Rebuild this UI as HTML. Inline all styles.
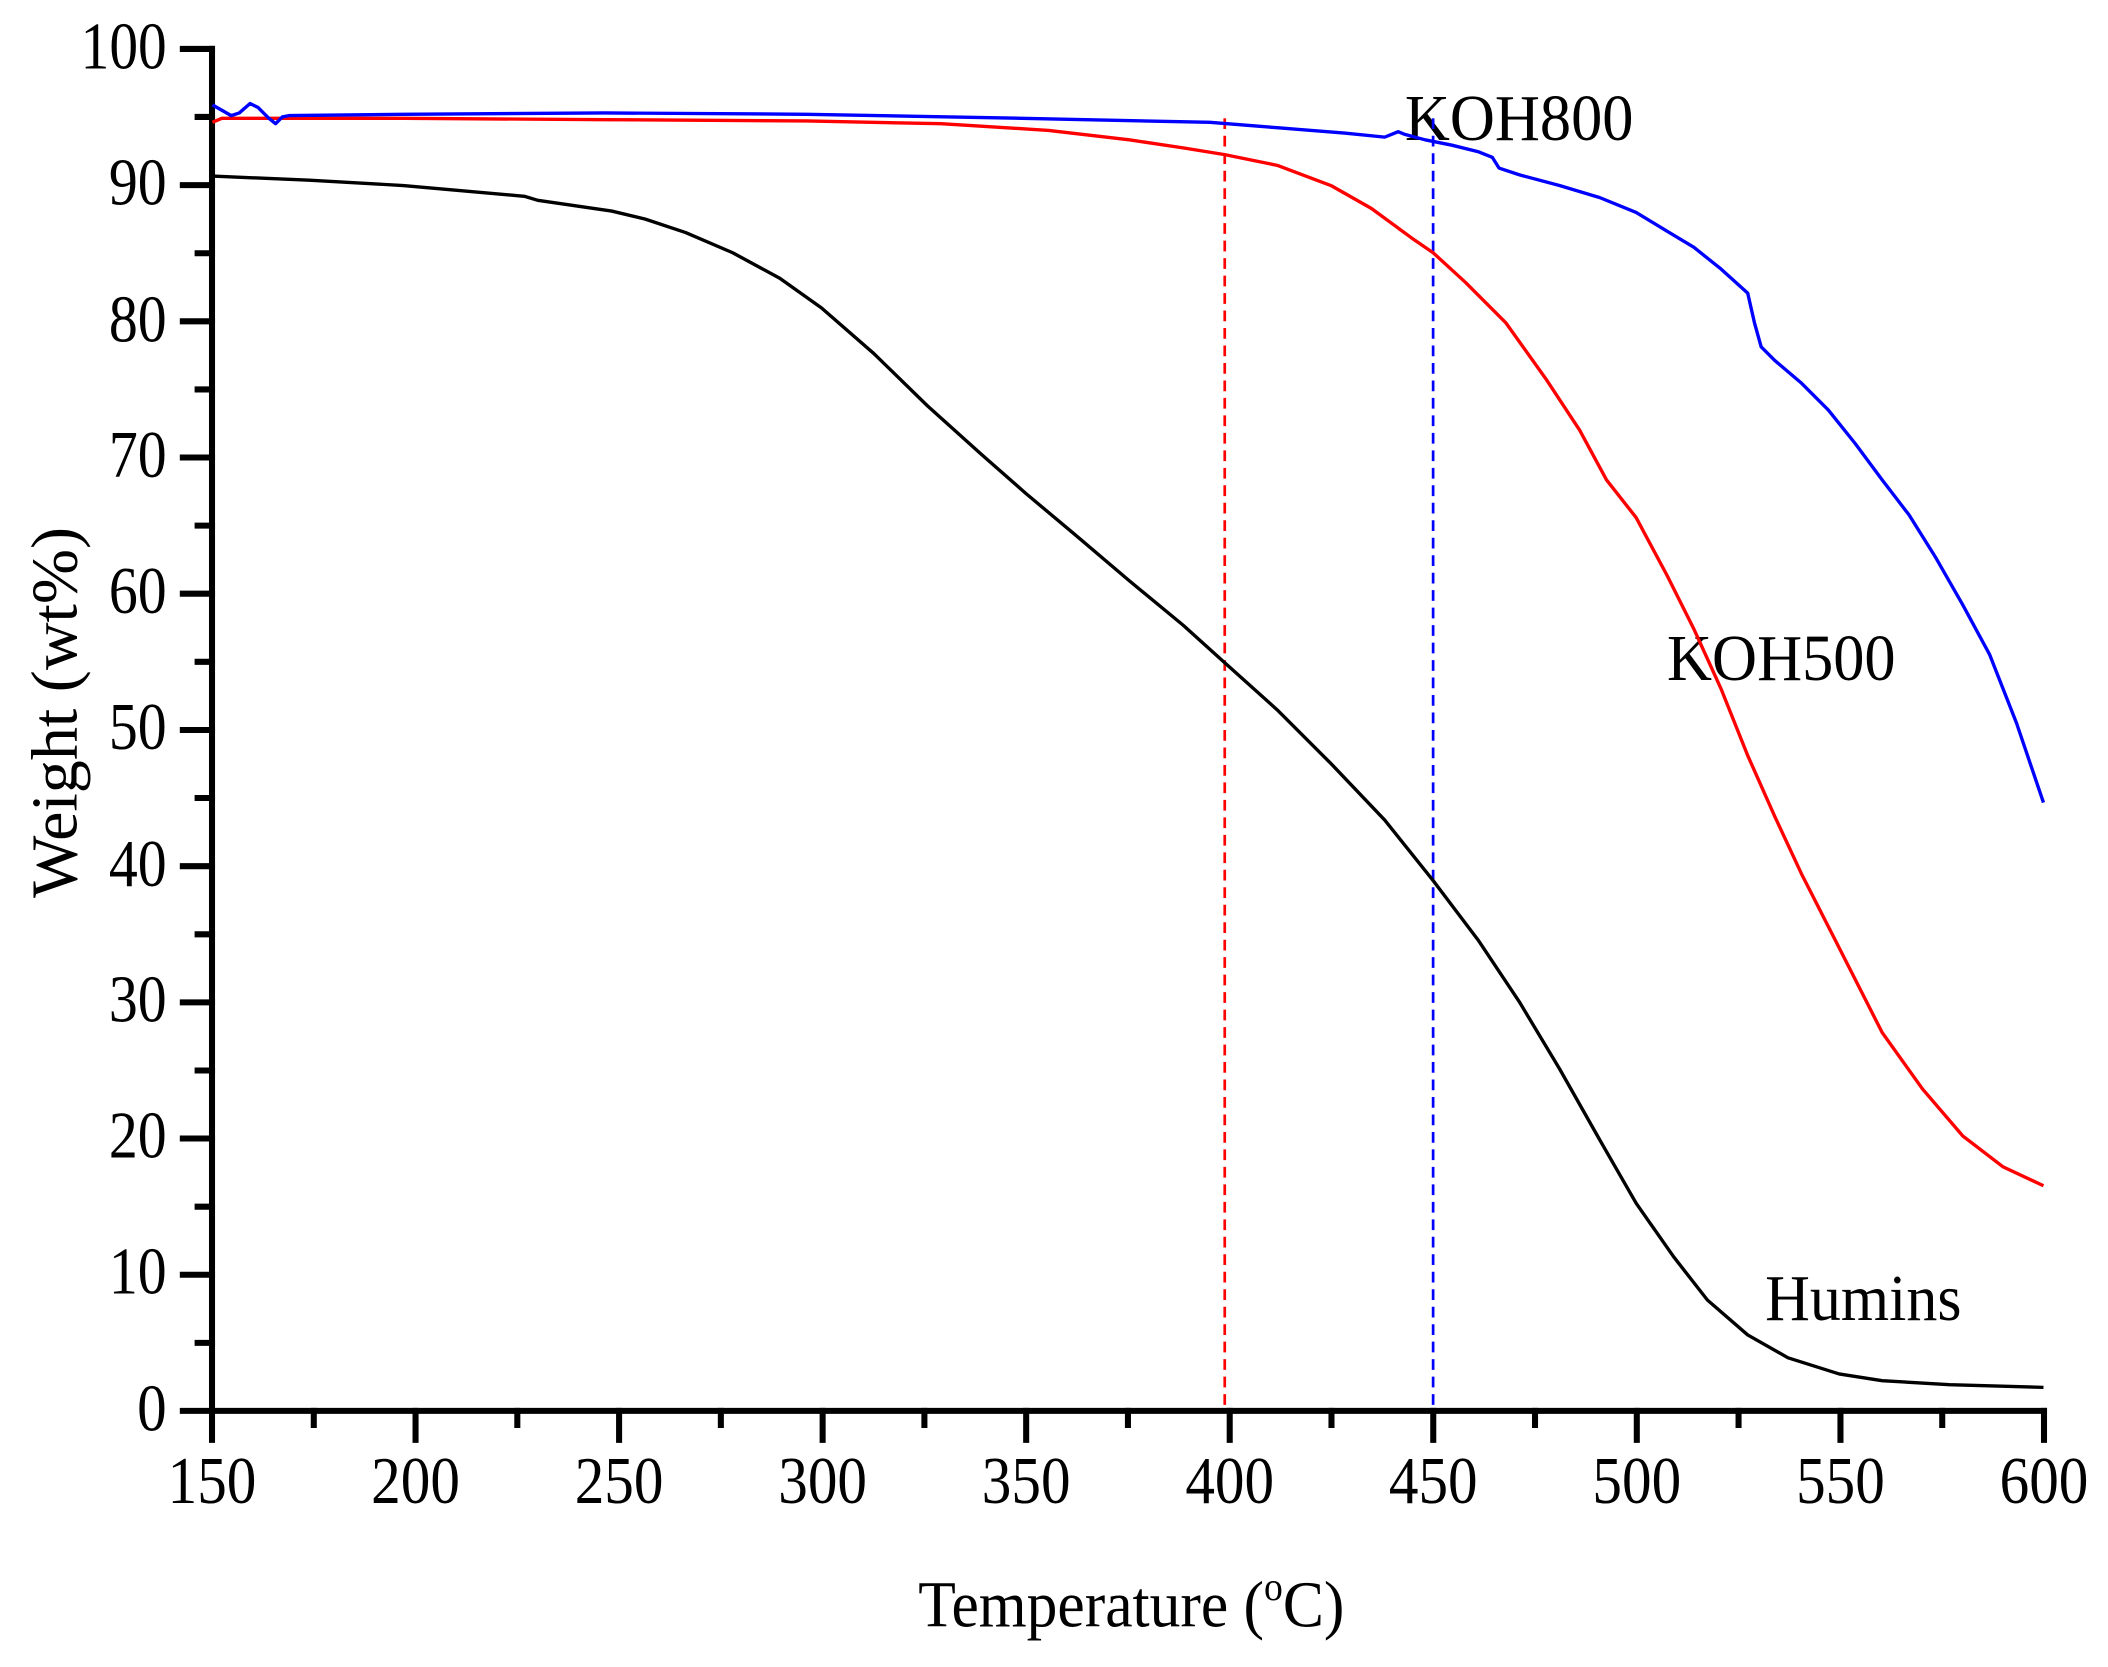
<!DOCTYPE html>
<html><head><style>html,body{margin:0;padding:0;background:#fff}svg{display:block}</style></head>
<body>
<svg width="2108" height="1667" viewBox="0 0 1568 1240" preserveAspectRatio="none" xmlns="http://www.w3.org/2000/svg" font-family="'Liberation Serif',serif">
<rect width="1568" height="1240" fill="#fff"/>
<g stroke="#000" stroke-width="4.5" fill="none" stroke-linecap="square">
<path d="M157.7,36.4 V1049.5 H1520.4"/>
<path d="M136,36.4H157.7 M136,137.7H157.7 M136,239H157.7 M136,340.3H157.7 M136,441.6H157.7 M136,543H157.7 M136,644.3H157.7 M136,745.6H157.7 M136,846.9H157.7 M136,948.2H157.7 M136,1049.5H157.7"/>
<path d="M147,87H157.7 M147,188.4H157.7 M147,289.7H157.7 M147,391H157.7 M147,492.3H157.7 M147,593.6H157.7 M147,695H157.7 M147,796.3H157.7 M147,897.6H157.7 M147,998.9H157.7"/>
<path d="M157.7,1049.5V1071 M309.1,1049.5V1071 M460.5,1049.5V1071 M611.9,1049.5V1071 M763.3,1049.5V1071 M914.7,1049.5V1071 M1066.1,1049.5V1071 M1217.5,1049.5V1071 M1369,1049.5V1071 M1520.4,1049.5V1071"/>
<path d="M233.4,1049.5V1060 M384.8,1049.5V1060 M536.2,1049.5V1060 M687.6,1049.5V1060 M839,1049.5V1060 M990.4,1049.5V1060 M1141.8,1049.5V1060 M1293.2,1049.5V1060 M1444.7,1049.5V1060"/>
</g>
<g font-size="50" text-anchor="end" fill="#000">
<text x="124" y="51" textLength="64" lengthAdjust="spacingAndGlyphs">100</text>
<text x="124" y="152" textLength="43" lengthAdjust="spacingAndGlyphs">90</text>
<text x="124" y="254" textLength="43" lengthAdjust="spacingAndGlyphs">80</text>
<text x="124" y="355" textLength="43" lengthAdjust="spacingAndGlyphs">70</text>
<text x="124" y="456" textLength="43" lengthAdjust="spacingAndGlyphs">60</text>
<text x="124" y="557" textLength="43" lengthAdjust="spacingAndGlyphs">50</text>
<text x="124" y="659" textLength="43" lengthAdjust="spacingAndGlyphs">40</text>
<text x="124" y="760" textLength="43" lengthAdjust="spacingAndGlyphs">30</text>
<text x="124" y="861" textLength="43" lengthAdjust="spacingAndGlyphs">20</text>
<text x="124" y="962" textLength="43" lengthAdjust="spacingAndGlyphs">10</text>
<text x="124" y="1064" textLength="22" lengthAdjust="spacingAndGlyphs">0</text>
</g>
<g font-size="50" text-anchor="middle" fill="#000">
<text x="157.7" y="1118" textLength="66" lengthAdjust="spacingAndGlyphs">150</text>
<text x="309.1" y="1118" textLength="66" lengthAdjust="spacingAndGlyphs">200</text>
<text x="460.5" y="1118" textLength="66" lengthAdjust="spacingAndGlyphs">250</text>
<text x="611.9" y="1118" textLength="66" lengthAdjust="spacingAndGlyphs">300</text>
<text x="763.3" y="1118" textLength="66" lengthAdjust="spacingAndGlyphs">350</text>
<text x="914.7" y="1118" textLength="66" lengthAdjust="spacingAndGlyphs">400</text>
<text x="1066.1" y="1118" textLength="66" lengthAdjust="spacingAndGlyphs">450</text>
<text x="1217.5" y="1118" textLength="66" lengthAdjust="spacingAndGlyphs">500</text>
<text x="1369" y="1118" textLength="66" lengthAdjust="spacingAndGlyphs">550</text>
<text x="1520.4" y="1118" textLength="66" lengthAdjust="spacingAndGlyphs">600</text>
</g>
<text x="683" y="1210" font-size="49" textLength="317" lengthAdjust="spacingAndGlyphs">Temperature (<tspan font-size="30" dy="-20">o</tspan><tspan dy="20">C)</tspan></text>
<text transform="translate(57,530) rotate(-90)" font-size="49" text-anchor="middle" textLength="276" lengthAdjust="spacingAndGlyphs">Weight (wt%)</text>
<text x="1045" y="104" font-size="49" textLength="170" lengthAdjust="spacingAndGlyphs">KOH800</text>
<text x="1240" y="506" font-size="49" textLength="170" lengthAdjust="spacingAndGlyphs">KOH500</text>
<text x="1313" y="982" font-size="49" textLength="146" lengthAdjust="spacingAndGlyphs">Humins</text>
<g fill="none" stroke-width="2">
<path d="M911,88V1049" stroke="#f00" stroke-dasharray="8,5"/>
<path d="M1066,88V1049" stroke="#00f" stroke-dasharray="8,5"/>
</g>
<g fill="none" stroke-linejoin="round">
<polyline stroke="#000" stroke-width="2.5" points="158,131 230,134 300,138 390,146 400,149 455,157 480,163 510,173 545,188 580,207 611,229 650,263 690,302 730,338 763,367 800,398 840,432 880,465 911,493 950,528 990,568 1030,610 1066,655 1100,700 1130,745 1160,795 1190,848 1217,895 1245,935 1270,967 1300,993 1330,1010 1368,1022 1400,1027 1450,1030 1520,1032"/>
<polyline stroke="#f00" stroke-width="2.5" points="158,91 165,88 180,88 300,88 450,89 600,90 700,92 780,97 840,104 880,110 911,115 950,123 990,138 1020,155 1050,177 1066,188 1090,210 1120,240 1150,282 1175,320 1195,357 1217,385 1240,428 1260,468 1280,512 1300,562 1320,607 1340,650 1368,705 1400,768 1430,810 1460,845 1490,868 1520,882"/>
<polyline stroke="#00f" stroke-width="2.5" points="158,78 165,82 172,86 178,84 186,77 192,80 200,88 205,92 210,87 215,86 300,85 450,84 600,85 760,88 900,91 950,95 1000,99 1030,102 1040,98 1045,100 1060,104 1080,108 1100,113 1110,117 1115,125 1130,130 1160,138 1190,147 1217,158 1240,172 1260,184 1280,200 1300,218 1305,240 1310,258 1320,268 1340,285 1360,305 1380,330 1400,357 1410,370 1420,383 1440,415 1460,450 1480,487 1500,538 1520,597"/>
</g>
</svg>
</body></html>
